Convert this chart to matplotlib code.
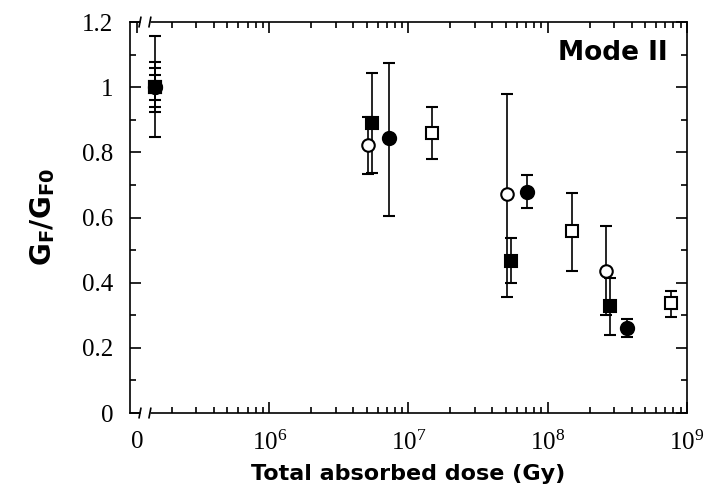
"""
Relative fracture energy G_F/G_F0 (mode II) against total absorbed dose.
Zero-dose reference points sit left of the axis break.
"""

import matplotlib
matplotlib.use("Agg")
import matplotlib.pyplot as plt
import numpy as np
from matplotlib.ticker import FuncFormatter, LogLocator, MultipleLocator, NullFormatter
from matplotlib.transforms import blended_transform_factory


# dose (Gy), ratio, lower / upper ends of the error bars
SQ_FILLED_DOSE = [0, 5.44e6, 5.45e7, 2.80e8]
SQ_FILLED_G = [1.0, 0.891, 0.466, 0.328]
SQ_FILLED_LO = [0.847, 0.736, 0.398, 0.239]
SQ_FILLED_HI = [1.157, 1.043, 0.536, 0.413]

CI_OPEN_DOSE = [0, 5.14e6, 5.07e7, 2.61e8]
CI_OPEN_G = [1.0, 0.823, 0.671, 0.436]
CI_OPEN_LO = [0.923, 0.734, 0.357, 0.300]
CI_OPEN_HI = [1.077, 0.910, 0.979, 0.575]

CI_FILLED_DOSE = [0, 7.28e6, 7.06e7, 3.69e8]
CI_FILLED_G = [1.0, 0.843, 0.679, 0.260]
CI_FILLED_LO = [0.940, 0.605, 0.628, 0.234]
CI_FILLED_HI = [1.060, 1.075, 0.730, 0.288]

SQ_OPEN_DOSE = [0, 1.48e7, 1.49e8, 7.64e8]
SQ_OPEN_G = [1.0, 0.860, 0.560, 0.337]
SQ_OPEN_LO = [0.962, 0.780, 0.437, 0.296]
SQ_OPEN_HI = [1.038, 0.938, 0.675, 0.375]

X_TICKS = [1e6, 1e7, 1e8, 1e9]
ZERO_POS = 1.5e5      # where the zero-dose points are drawn
ZERO_LABEL_POS = 1.12e5
BREAK_POS = [1.18e5, 1.39e5]

plt.rcParams.update(
    {
        "font.family": "serif",
        "font.serif": ["Liberation Serif", "DejaVu Serif"],
        "mathtext.fontset": "custom",
        "mathtext.rm": "Liberation Serif",
        "mathtext.it": "Liberation Serif:italic",
        "mathtext.bf": "DejaVu Sans:bold",
        "axes.linewidth": 1.2,
    }
)


def draw_series(ax, dose, g, lo, hi, marker, filled, size):
    dose = np.asarray(dose, dtype=float)
    g = np.asarray(g)
    xpos = np.where(dose > 0, dose, ZERO_POS)
    yerr = [g - np.asarray(lo), np.asarray(hi) - g]
    ax.errorbar(
        xpos, g, yerr=yerr, fmt=marker, ms=size,
        mfc="black" if filled else "white", mec="black", mew=1.5,
        ecolor="black", elinewidth=1.2, capsize=4.5, capthick=1.8,
        zorder=3, clip_on=False,
    )


fig = plt.figure(figsize=(7.15, 5.01), dpi=100)
ax = fig.add_axes([0.1818, 0.1756, 0.7790, 0.7804])

draw_series(ax, CI_OPEN_DOSE, CI_OPEN_G, CI_OPEN_LO, CI_OPEN_HI, "o", False, 9)
draw_series(ax, CI_FILLED_DOSE, CI_FILLED_G, CI_FILLED_LO, CI_FILLED_HI, "o", True, 9.5)
draw_series(ax, SQ_OPEN_DOSE, SQ_OPEN_G, SQ_OPEN_LO, SQ_OPEN_HI, "s", False, 8)
draw_series(ax, SQ_FILLED_DOSE, SQ_FILLED_G, SQ_FILLED_LO, SQ_FILLED_HI, "s", True, 8.5)

ax.set_xscale("log")
ax.set_xlim(1e5, 1e9)
ax.set_ylim(0, 1.2)

ax.set_xticks([ZERO_LABEL_POS] + X_TICKS)
ax.set_xticklabels(["0"] + [r"$10^{%d}$" % int(np.log10(v)) for v in X_TICKS])
ax.xaxis.set_minor_locator(LogLocator(base=10, subs=np.arange(2, 10), numticks=20))
ax.xaxis.set_minor_formatter(NullFormatter())
zero_tick = ax.xaxis.get_major_ticks()[0]
zero_tick.tick1line.set_visible(False)
zero_tick.tick2line.set_visible(False)

ax.yaxis.set_major_locator(MultipleLocator(0.2))
ax.yaxis.set_minor_locator(MultipleLocator(0.1))
ax.yaxis.set_major_formatter(FuncFormatter(lambda v, _: "%g" % round(v, 2)))

ax.tick_params(which="both", direction="in", top=True, right=True, width=1.2)
ax.tick_params(which="major", length=8)
ax.tick_params(which="minor", length=4.5)
ax.tick_params(axis="y", labelsize=18, pad=12)
ax.tick_params(axis="x", labelsize=18, pad=13)

ax.set_xlabel("Total absorbed dose (Gy)", family="DejaVu Sans", weight="bold",
              fontsize=16, labelpad=6)
ax.set_ylabel(r"$\mathbf{G}_\mathbf{F}\mathbf{/G}_\mathbf{F0}$", fontsize=20, labelpad=18)

ax.text(0.965, 0.92, "Mode II", transform=ax.transAxes, ha="right", va="center",
        family="DejaVu Sans", weight="bold", fontsize=19)

# axis break marks on top and bottom spines
trans = blended_transform_factory(ax.transData, ax.transAxes)
for yb in (0.0, 1.0):
    ax.plot(BREAK_POS, [yb, yb], color="white", lw=2.5, transform=trans,
            clip_on=False, zorder=4, solid_capstyle="butt")
    for xb in BREAK_POS:
        ax.plot([xb * 0.985, xb * 1.015], [yb - 0.012, yb + 0.012], color="black",
                lw=1.2, transform=trans, clip_on=False, zorder=5)

fig.savefig("out.png", dpi=100, facecolor="white")
